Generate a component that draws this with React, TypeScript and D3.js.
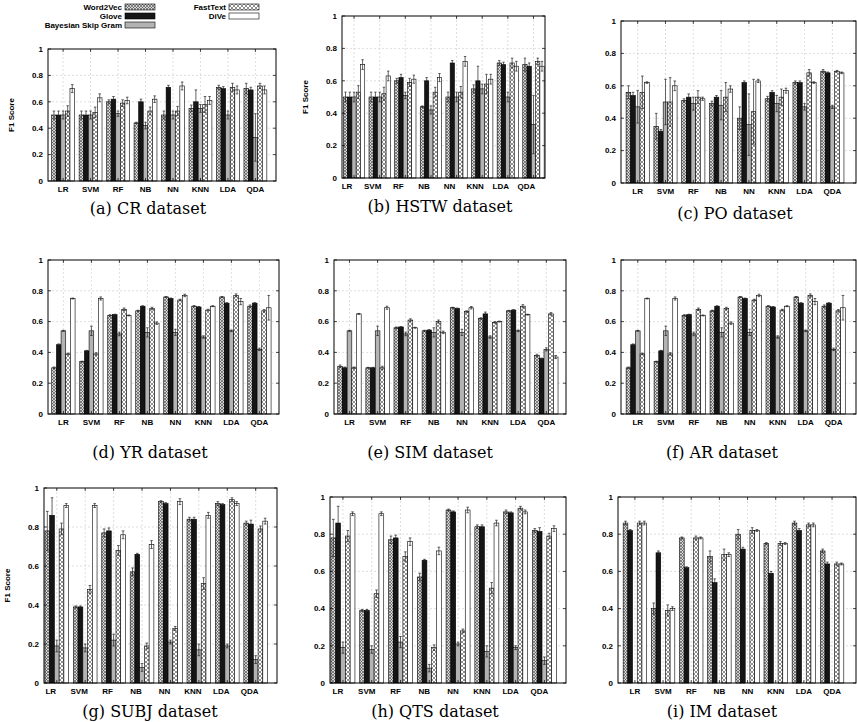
import React from "react";
import * as d3 from "d3";

const classifiers = ["LR", "SVM", "RF", "NB", "NN", "KNN", "LDA", "QDA"];
const seriesNames = ["Word2Vec", "Glove", "Bayesian Skip Gram", "FastText", "DiVe"];
const yTicks = [0, 0.2, 0.4, 0.6, 0.8, 1];

// rows: Word2Vec, Glove, Bayesian Skip Gram, FastText, DiVe -- columns follow classifiers
const crScores = [
  [0.5, 0.5, 0.6, 0.44, 0.5, 0.55, 0.71, 0.7],
  [0.5, 0.5, 0.62, 0.6, 0.71, 0.6, 0.7, 0.69],
  [0.5, 0.5, 0.51, 0.42, 0.5, 0.55, 0.5, 0.33],
  [0.53, 0.52, 0.59, 0.53, 0.53, 0.58, 0.71, 0.72],
  [0.7, 0.63, 0.61, 0.62, 0.72, 0.61, 0.69, 0.69],
];
const crErrors = [
  [0.03, 0.03, 0.015, 0.005, 0.03, 0.025, 0.015, 0.04],
  [0.03, 0.03, 0.02, 0.02, 0.015, 0.09, 0.015, 0.02],
  [0.03, 0.03, 0.02, 0.025, 0.03, 0.03, 0.03, 0.18],
  [0.04, 0.04, 0.025, 0.03, 0.035, 0.06, 0.03, 0.02],
  [0.03, 0.03, 0.025, 0.025, 0.03, 0.03, 0.03, 0.03],
];

const poScores = [
  [0.56, 0.35, 0.51, 0.49, 0.4, 0.52, 0.62, 0.69],
  [0.54, 0.32, 0.53, 0.53, 0.62, 0.56, 0.62, 0.68],
  [0.47, 0.5, 0.49, 0.48, 0.36, 0.49, 0.47, 0.47],
  [0.56, 0.5, 0.53, 0.53, 0.44, 0.53, 0.68, 0.69],
  [0.62, 0.6, 0.52, 0.58, 0.63, 0.57, 0.62, 0.68],
];
const poErrors = [
  [0.04, 0.08, 0.01, 0.015, 0.07, 0.015, 0.01, 0.01],
  [0.02, 0.01, 0.02, 0.01, 0.01, 0.01, 0.01, 0.005],
  [0.1, 0.14, 0.04, 0.09, 0.19, 0.05, 0.02, 0.01],
  [0.1, 0.15, 0.04, 0.09, 0.2, 0.05, 0.02, 0.005],
  [0.005, 0.03, 0.01, 0.02, 0.01, 0.015, 0.005, 0.005],
];

const yrScores = [
  [0.3, 0.34, 0.64, 0.67, 0.76, 0.7, 0.76, 0.7],
  [0.45, 0.41, 0.645, 0.7, 0.75, 0.695, 0.72, 0.72],
  [0.54, 0.54, 0.52, 0.53, 0.53, 0.5, 0.54, 0.42],
  [0.39, 0.39, 0.68, 0.685, 0.74, 0.675, 0.77, 0.67],
  [0.75, 0.75, 0.64, 0.59, 0.77, 0.7, 0.73, 0.69],
];
const yrErrors = [
  [0.005, 0.003, 0.005, 0.004, 0.003, 0.004, 0.003, 0.008],
  [0.005, 0.003, 0.003, 0.003, 0.003, 0.003, 0.003, 0.003],
  [0.003, 0.03, 0.012, 0.03, 0.02, 0.008, 0.005, 0.008],
  [0.005, 0.008, 0.008, 0.008, 0.005, 0.005, 0.01, 0.008],
  [0.003, 0.01, 0.003, 0.008, 0.008, 0.003, 0.02, 0.08],
];

const simScores = [
  [0.31, 0.3, 0.56, 0.54, 0.69, 0.62, 0.67, 0.38],
  [0.3, 0.3, 0.565, 0.545, 0.685, 0.65, 0.675, 0.36],
  [0.54, 0.54, 0.52, 0.53, 0.53, 0.5, 0.54, 0.42],
  [0.3, 0.3, 0.61, 0.6, 0.665, 0.595, 0.7, 0.65],
  [0.65, 0.69, 0.56, 0.53, 0.69, 0.6, 0.645, 0.37],
];
const simErrors = [
  [0.008, 0.003, 0.005, 0.004, 0.003, 0.005, 0.003, 0.008],
  [0.005, 0.003, 0.003, 0.003, 0.003, 0.012, 0.003, 0.003],
  [0.003, 0.03, 0.012, 0.03, 0.02, 0.008, 0.005, 0.01],
  [0.005, 0.01, 0.008, 0.01, 0.005, 0.005, 0.01, 0.008],
  [0.003, 0.01, 0.003, 0.008, 0.008, 0.003, 0.003, 0.01],
];

const subjScores = [
  [0.78, 0.39, 0.77, 0.57, 0.93, 0.84, 0.92, 0.82],
  [0.86, 0.39, 0.78, 0.66, 0.92, 0.84, 0.915, 0.815],
  [0.19, 0.18, 0.22, 0.08, 0.21, 0.17, 0.19, 0.12],
  [0.79, 0.48, 0.68, 0.19, 0.28, 0.51, 0.94, 0.79],
  [0.91, 0.91, 0.76, 0.71, 0.93, 0.86, 0.92, 0.83],
];
const subjErrors = [
  [0.1, 0.005, 0.02, 0.02, 0.005, 0.01, 0.01, 0.01],
  [0.09, 0.005, 0.015, 0.005, 0.005, 0.01, 0.005, 0.02],
  [0.03, 0.02, 0.03, 0.02, 0.01, 0.03, 0.01, 0.02],
  [0.03, 0.02, 0.025, 0.015, 0.01, 0.03, 0.01, 0.015],
  [0.01, 0.01, 0.02, 0.02, 0.015, 0.015, 0.01, 0.015],
];

const imScores = [
  [0.86, 0.4, 0.78, 0.68, 0.8, 0.75, 0.86, 0.71],
  [0.82, 0.7, 0.62, 0.54, 0.72, 0.59, 0.82, 0.64],
  [0, 0, 0, 0, 0, 0, 0, 0],
  [0.86, 0.39, 0.78, 0.69, 0.82, 0.75, 0.85, 0.64],
  [0.86, 0.4, 0.78, 0.69, 0.82, 0.75, 0.85, 0.64],
];
const imErrors = [
  [0.01, 0.03, 0.005, 0.03, 0.025, 0.005, 0.01, 0.01],
  [0.005, 0.01, 0.005, 0.02, 0.01, 0.01, 0.01, 0.01],
  [0, 0, 0, 0, 0, 0, 0, 0],
  [0.01, 0.03, 0.01, 0.03, 0.015, 0.01, 0.01, 0.01],
  [0.01, 0.01, 0.005, 0.01, 0.005, 0.005, 0.01, 0.005],
];

const captions = [
  "(a) CR dataset", "(b) HSTW dataset", "(c) PO dataset",
  "(d) YR dataset", "(e) SIM dataset", "(f) AR dataset",
  "(g) SUBJ dataset", "(h) QTS dataset", "(i) IM dataset",
];
const panelScores = [crScores, crScores, poScores, yrScores, simScores, yrScores, subjScores, subjScores, imScores];
const panelErrors = [crErrors, crErrors, poErrors, yrErrors, simErrors, yrErrors, subjErrors, subjErrors, imErrors];

// plot box per panel: left, right, top(1), bottom(0), x domain, label shift, caption pos, y-title
const layout = [
  { l: 48, r: 276, t: 49, b: 181, dom: [-0.55, 7.75], ldx: 0, cx: 148, cy: 214, yt: true },
  { l: 342, r: 545, t: 16, b: 178, dom: [-0.47, 7.45], ldx: -7, cx: 440, cy: 212, yt: true },
  { l: 621, r: 856, t: 21, b: 183, dom: [-0.6, 7.85], ldx: 0, cx: 735, cy: 219, yt: false },
  { l: 48, r: 279, t: 260, b: 414, dom: [-0.55, 7.7], ldx: 0, cx: 150, cy: 458, yt: false },
  { l: 334, r: 566, t: 260, b: 414, dom: [-0.55, 7.7], ldx: 0, cx: 430, cy: 458, yt: false },
  { l: 621, r: 856, t: 260, b: 414, dom: [-0.6, 7.8], ldx: 0, cx: 722, cy: 458, yt: false },
  { l: 44, r: 277, t: 488, b: 683, dom: [-0.45, 7.75], ldx: -6, cx: 150, cy: 717, yt: true },
  { l: 330, r: 566, t: 497, b: 683, dom: [-0.45, 7.75], ldx: -5, cx: 435, cy: 717, yt: false },
  { l: 618, r: 856, t: 497, b: 683, dom: [-0.6, 7.85], ldx: 0, cx: 722, cy: 717, yt: false },
];

const fills = ["url(#w2v)", "#151515", "#b3b3b3", "url(#ftx)", "#ffffff"];
const sansBold = "'Liberation Sans', Arial, sans-serif";

function Panel({ idx }: { idx: number }) {
  const L = layout[idx];
  const scores = panelScores[idx];
  const errors = panelErrors[idx];
  const x = d3.scaleLinear().domain(L.dom).range([L.l, L.r]);
  const y = d3.scaleLinear().domain([0, 1]).range([L.b, L.t]);
  const unit = 1 / 6;
  const bw = x(unit) - x(0);

  return (
    <g>
      {/* grid */}
      {yTicks.slice(1, -1).map((t) => (
        <line key={"gy" + t} x1={L.l} x2={L.r} y1={y(t)} y2={y(t)} stroke="#c8c8c8" strokeWidth={0.6} strokeDasharray="2,2" />
      ))}
      {classifiers.map((c, i) => (
        <line key={"gx" + c} x1={x(i)} x2={x(i)} y1={L.t} y2={L.b} stroke="#c8c8c8" strokeWidth={0.6} strokeDasharray="2,2" />
      ))}
      {/* bars */}
      {scores.map((row, s) =>
        row.map((v, i) => {
          if (v <= 0) return null;
          const cx = i + (s - 2) * unit;
          return (
            <rect key={`b${s}-${i}`} x={x(cx - unit / 2)} y={y(v)} width={bw} height={y(0) - y(v)}
              fill={fills[s]} stroke="#000" strokeWidth={0.6} />
          );
        })
      )}
      {/* error bars */}
      {scores.map((row, s) =>
        row.map((v, i) => {
          if (v <= 0) return null;
          const e = errors[s][i];
          const cx = x(i + (s - 2) * unit);
          const hw = bw * 0.28;
          const y1 = y(v - e);
          const y2 = y(Math.min(v + e, 1));
          return (
            <g key={`e${s}-${i}`} stroke="#222" strokeWidth={0.7}>
              <line x1={cx} x2={cx} y1={y1} y2={y2} />
              <line x1={cx - hw} x2={cx + hw} y1={y1} y2={y1} />
              <line x1={cx - hw} x2={cx + hw} y1={y2} y2={y2} />
            </g>
          );
        })
      )}
      {/* ticks */}
      {yTicks.map((t) => (
        <g key={"ty" + t}>
          <line x1={L.l} x2={L.l + 3} y1={y(t)} y2={y(t)} stroke="#000" strokeWidth={0.7} />
          <line x1={L.r} x2={L.r - 3} y1={y(t)} y2={y(t)} stroke="#000" strokeWidth={0.7} />
          <text x={L.l - 5} y={y(t)} dy="0.35em" textAnchor="end" fontFamily={sansBold} fontWeight="bold" fontSize={8}>
            {d3.format("~g")(t)}
          </text>
        </g>
      ))}
      {classifiers.map((c, i) => (
        <g key={"tx" + c}>
          <line x1={x(i)} x2={x(i)} y1={L.b} y2={L.b - 3} stroke="#000" strokeWidth={0.7} />
          <line x1={x(i)} x2={x(i)} y1={L.t} y2={L.t + 3} stroke="#000" strokeWidth={0.7} />
          <text x={x(i) + L.ldx} y={L.b + 11} textAnchor="middle" fontFamily={sansBold} fontWeight="bold" fontSize={8}>
            {c}
          </text>
        </g>
      ))}
      <rect x={L.l} y={L.t} width={L.r - L.l} height={L.b - L.t} fill="none" stroke="#000" strokeWidth={1} />
      {L.yt && (
        <text transform={`translate(${L.l - 34},${(L.t + L.b) / 2}) rotate(-90)`} textAnchor="middle"
          fontFamily={sansBold} fontWeight="bold" fontSize={8}>
          F1 Score
        </text>
      )}
      <text x={L.cx} y={L.cy} textAnchor="middle" fontFamily="'DejaVu Serif', serif" fontSize={16}>
        {captions[idx]}
      </text>
    </g>
  );
}

function Legend() {
  const cols = [
    { textX: 122, swX: 125, items: [0, 1, 2] },
    { textX: 226, swX: 229, items: [3, 4] },
  ];
  return (
    <g>
      {cols.map((col, ci) =>
        col.items.map((s, k) => {
          const yy = 7 + k * 9;
          return (
            <g key={`lg${ci}-${s}`}>
              <text x={col.textX} y={yy} dy="0.35em" textAnchor="end" fontFamily={sansBold} fontWeight="bold" fontSize={8}>
                {seriesNames[s]}
              </text>
              <rect x={col.swX} y={yy - 3} width={30} height={6} fill={fills[s]} stroke="#000" strokeWidth={0.6} />
            </g>
          );
        })
      )}
    </g>
  );
}

export default function App() {
  return (
    <svg width={857} height={722} style={{ position: "absolute", left: 0, top: 0, background: "#fff" }}>
      <defs>
        <pattern id="w2v" width={3} height={3} patternUnits="userSpaceOnUse">
          <rect width={3} height={3} fill="#d6d6d6" />
          <path d="M0,0 L3,3 M3,0 L0,3" stroke="#444" strokeWidth={0.6} />
        </pattern>
        <pattern id="ftx" width={4} height={4} patternUnits="userSpaceOnUse">
          <rect width={4} height={4} fill="#fff" />
          <path d="M0,0 L4,4 M4,0 L0,4" stroke="#444" strokeWidth={0.6} />
        </pattern>
      </defs>
      {layout.map((_, i) => (
        <Panel key={i} idx={i} />
      ))}
      <Legend />
    </svg>
  );
}
